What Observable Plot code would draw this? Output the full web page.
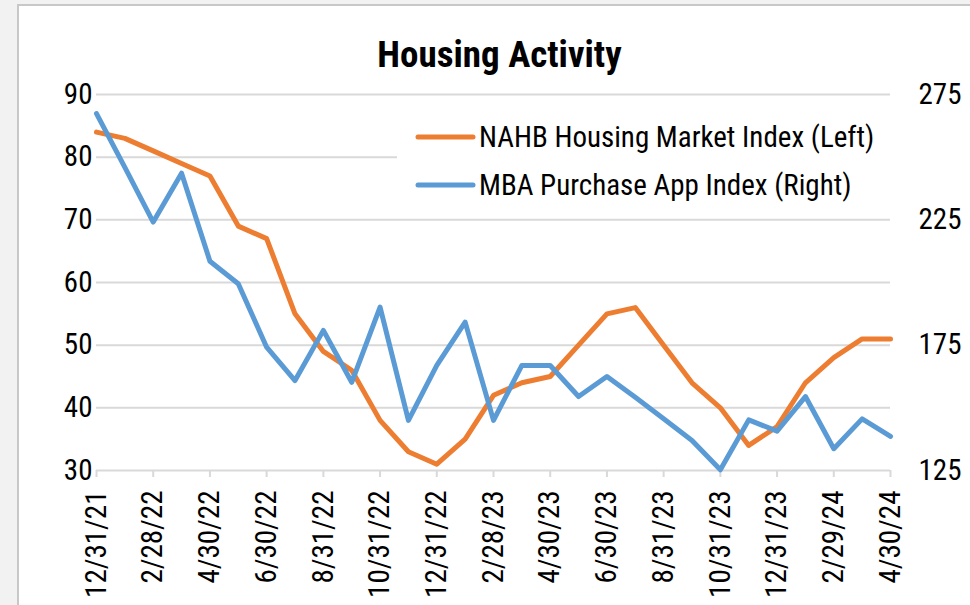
<!DOCTYPE html>
<html><head><meta charset="utf-8">
<script src="https://cdn.jsdelivr.net/npm/d3@7"></script>
<script src="https://cdn.jsdelivr.net/npm/@observablehq/plot@0.6"></script>
<style>
html,body{margin:0;padding:0;}
body{background:#f2f2f2;width:970px;height:605px;overflow:hidden;position:relative;
 font-family:"Roboto Condensed","Liberation Sans Narrow","DejaVu Sans Condensed",Roboto,sans-serif;}
#panel{position:absolute;left:17px;top:4px;width:990px;height:640px;background:#fff;border:2px solid #c8c8c8;}
#title{position:absolute;left:0;top:36px;width:999px;text-align:center;font-size:37px;line-height:37px;font-weight:bold;color:#000;}
#chart{position:absolute;left:0;top:0;}
#legend{position:absolute;left:397px;top:112px;width:520px;height:94px;background:#fff;}
</style></head>
<body>
<div id="panel"></div>
<div id="chart"></div>
<div id="title">Housing Activity</div>
<div id="legend"></div>
<script>
const dates = ["12/31/21","1/31/22","2/28/22","3/31/22","4/30/22","5/31/22","6/30/22","7/31/22","8/31/22","9/30/22","10/31/22","11/30/22","12/31/22","1/31/23","2/28/23","3/31/23","4/30/23","5/31/23","6/30/23","7/31/23","8/31/23","9/30/23","10/31/23","11/30/23","12/31/23","1/31/24","2/29/24","3/31/24","4/30/24"];
const nahb = [84,83,81,79,77,69,67,55,49,46,38,33,31,35,42,44,45,50,55,56,50,44,40,34,37,44,48,51,51];
const mba = [267.4,245.9,224.1,243.6,208.5,199.5,174.2,160.9,180.9,160.2,190.2,145.0,166.9,184.2,145.0,166.9,166.9,154.5,162.5,154.2,145.6,137.0,125.3,145.2,140.7,154.5,133.7,145.6,138.6];
const leftTicks = [30,40,50,60,70,80,90];
const rightTicks = [125,175,225,275];
const seriesNames = ["NAHB Housing Market Index (Left)","MBA Purchase App Index (Right)"];
const colors = ["#ED7D31","#5B9BD5"];

const data = dates.map((d,i)=>({date:d, nahb:nahb[i], mba:mba[i]}));
const toLeft = v => 30 + (v-125)/2.5;
const toRight = v => 125 + (v-30)*2.5;
const font = '"Roboto Condensed","Liberation Sans Narrow","DejaVu Sans Condensed",Roboto,sans-serif';

const chart = Plot.plot({
  width:970, height:605,
  marginLeft:96, marginRight:80, marginTop:94, marginBottom:135,
  x:{type:"point", domain:dates, padding:0, round:false},
  y:{domain:[30,90]},
  style:{background:"transparent", fontFamily:font, fontSize:"29px", color:"#000", overflow:"visible"},
  marks:[
    Plot.gridY(leftTicks.filter(t=>t>30), {stroke:"#d9d9d9", strokeOpacity:1, strokeWidth:2}),
    Plot.ruleY([30], {stroke:"#d9d9d9", strokeWidth:2}),
    Plot.axisX({ticks:dates.filter((d,i)=>i%2===0), tickSize:7, tickPadding:13, tickRotate:-90,
      stroke:"#d9d9d9", strokeWidth:2, strokeOpacity:1, fill:"#000", label:null, fontSize:29}),
    Plot.axisY({anchor:"left", ticks:leftTicks, tickSize:0, tickPadding:4, label:null, fill:"#000", fontSize:29}),
    Plot.axisY({anchor:"right", ticks:rightTicks.map(toLeft), tickFormat:d=>String(Math.round(toRight(d))),
      tickSize:0, tickPadding:28, label:null, fill:"#000", fontSize:29, textAnchor:"start"}),
    Plot.lineY(data, {x:"date", y:"nahb", stroke:colors[0], strokeWidth:5, strokeLinejoin:"round", strokeLinecap:"round"}),
    Plot.lineY(data, {x:"date", y:d=>toLeft(d.mba), stroke:colors[1], strokeWidth:5, strokeLinejoin:"round", strokeLinecap:"round"})
  ]
});
document.getElementById("chart").appendChild(chart);

// legend
const lg = d3.select("#legend").append("svg").attr("width",520).attr("height",94);
seriesNames.forEach((name,i)=>{
  const cy = 25 + i*48;
  lg.append("line").attr("x1",21).attr("x2",76).attr("y1",cy).attr("y2",cy)
    .attr("stroke",colors[i]).attr("stroke-width",5).attr("stroke-linecap","round");
  lg.append("text").attr("x",82).attr("y",cy).attr("dy","0.36em")
    .attr("font-family",font).attr("font-size",29).attr("fill","#000").text(name);
});
</script>
</body></html>
